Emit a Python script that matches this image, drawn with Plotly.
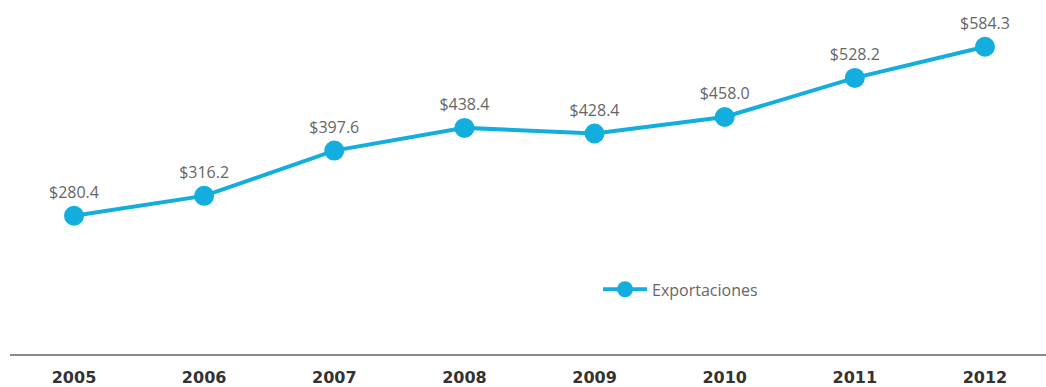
import plotly.graph_objects as go

years = ["2005", "2006", "2007", "2008", "2009", "2010", "2011", "2012"]
exports = [280.4, 316.2, 397.6, 438.4, 428.4, 458.0, 528.2, 584.3]
labels = ["$" + f"{v:.1f}" for v in exports]

color = "#13aede"

fig = go.Figure()
fig.add_trace(go.Scatter(
    x=years,
    y=exports,
    mode="lines+markers+text",
    name="Exportaciones",
    line=dict(color=color, width=4),
    marker=dict(color=color, size=20),
    text=labels,
    textposition="top center",
    textfont=dict(family="Open Sans", size=16, color="#666666"),
))

fig.update_layout(
    width=1046,
    height=387,
    margin=dict(l=10, r=0, t=0, b=31),
    paper_bgcolor="white",
    plot_bgcolor="white",
    showlegend=True,
    legend=dict(
        x=0.5676, y=0.1826, xanchor="left", yanchor="middle",
        itemwidth=44,
        bgcolor="rgba(0,0,0,0)",
        font=dict(family="Open Sans", size=16, color="#666666"),
    ),
    xaxis=dict(
        type="category",
        range=[-0.4918, 7.469],
        showgrid=False,
        zeroline=False,
        showline=True,
        linecolor="#8a8a8a",
        linewidth=2,
        ticks="",
        ticklabelstandoff=8,
        tickfont=dict(family="DejaVu Sans", size=16, color="#333333", weight="bold"),
    ),
    yaxis=dict(
        range=[31.9, 668.3],
        visible=False,
        showgrid=False,
        zeroline=False,
    ),
)

fig.write_html("out.html")
